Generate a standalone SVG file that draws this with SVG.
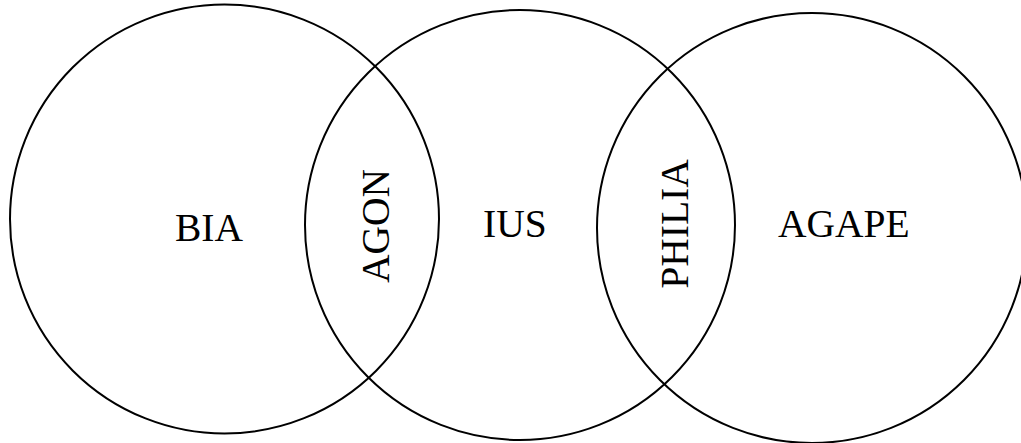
<svg xmlns="http://www.w3.org/2000/svg" width="1021" height="443" viewBox="0 0 1021 443">
<style>
.c{fill:none;stroke:#000;stroke-width:2}
.t{font-family:"Liberation Serif","Times New Roman",serif;font-size:39.5px;fill:#000}
</style>
<rect width="1021" height="443" fill="#fff"/>
<g id="bia"><circle class="c" cx="224.5" cy="219" r="214.5"/><text class="t" x="175" y="241">BIA</text></g>
<g id="ius"><circle class="c" cx="520" cy="225" r="215"/><text class="t" x="483" y="237">IUS</text></g>
<g id="agape"><circle class="c" cx="812" cy="228" r="215"/><text class="t" x="778" y="237">AGAPE</text></g>
<g id="agon"><text class="t" text-anchor="middle" transform="translate(389,226) rotate(-90)">AGON</text></g>
<g id="philia"><text class="t" text-anchor="middle" transform="translate(688,224) rotate(-90)">PHILIA</text></g>
<g id="connectors"></g>
</svg>
